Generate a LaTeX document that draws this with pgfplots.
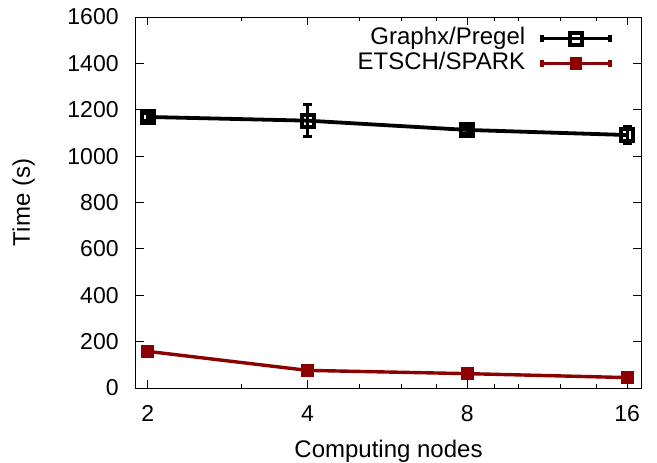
\documentclass[border=0pt]{standalone}
\usepackage{fontspec}
\setmainfont{Liberation Sans}
\usepackage{pgfplots}
\pgfplotsset{compat=1.18}
\definecolor{dred}{RGB}{139,0,0}
\begin{document}
\fontsize{11.5}{13.8}\selectfont
\begin{tikzpicture}
\begin{axis}[
  scale only axis, width=252.5pt, height=185.5pt,
  xmin=0.926, xmax=4.087,
  ymin=0, ymax=1600, ytick={0,200,...,1600},
  xtick={1,2,3,4}, xticklabels={2,4,8,16},
  minor xtick={1.585,2.3219,2.585,2.8074,3.1699,3.3219,3.585,3.8074},
  tick align=inside, major tick length=4pt, minor tick length=2pt,
  axis line style={line width=0.5pt},
  every tick/.style={line width=0.5pt, black},
  /pgf/number format/assume math mode=true,
  /pgf/number format/1000 sep={},
  yticklabel style={anchor=east, inner sep=0pt, xshift=-8.5pt},
  xticklabel style={anchor=north, inner sep=0pt, yshift=-8.5pt},
  xlabel={Computing nodes},
  ylabel={Time (s)},
  xlabel style={at={(axis description cs:0.5,-0.1879)}, anchor=base, inner sep=0pt, font=\fontsize{12}{14}\selectfont},
  ylabel style={at={(axis description cs:-0.2099,0.5)}, anchor=base, inner sep=0pt, font=\fontsize{12}{14}\selectfont},
  legend style={at={(axis description cs:0.942,0.972)}, anchor=north east,
    draw=none, fill=none, inner sep=0pt, outer sep=0pt,
    column sep=7.5pt, row sep=1.3pt,
    font=\fontsize{12}{14}\selectfont,
    nodes={inner sep=0pt, text height=8.7pt, text depth=2.5pt}},
  legend cell align=right, legend plot pos=right,
  legend image code/.code={
    \draw[#1, mark=none] (0pt,0pt) -- (33.85pt,0pt);
    \draw[#1, mark=none] (0pt,-1.9pt) -- (0pt,1.9pt) (33.85pt,-1.9pt) -- (33.85pt,1.9pt);
    \draw[#1, only marks] plot coordinates {(16.9pt,0pt)};
  },
]
\addplot[black, line width=1.9pt, mark=square, mark size=3pt,
  mark options={solid, line width=2pt},
  error bars/y dir=both, error bars/y explicit,
  error bars/error bar style={line width=1.5pt},
  error bars/error mark options={rotate=90, mark size=2.2pt, line width=1.5pt}]
  coordinates {
  (1,1169) +- (0,15)
  (2,1153) +- (0,70)
  (3,1113) +- (0,15)
  (4,1091) +- (0,35)
};
\addlegendentry{Graphx/Pregel}
\addplot[dred, line width=1.7pt, mark=square*, mark size=2.7pt,
  mark options={solid, line width=1pt},
  error bars/y dir=both, error bars/y explicit,
  error bars/error bar style={line width=1.5pt},
  error bars/error mark options={rotate=90, mark size=2.2pt, line width=1.5pt}]
  coordinates {
  (1,158) +- (0,5)
  (2,76) +- (0,5)
  (3,62) +- (0,5)
  (4,45) +- (0,5)
};
\addlegendentry{ETSCH/SPARK}
\end{axis}
\pgfresetboundingbox
\path ([xshift=-68pt,yshift=-37pt]current axis.south west) rectangle ([xshift=8pt,yshift=8.5pt]current axis.north east);
\end{tikzpicture}
\end{document}
